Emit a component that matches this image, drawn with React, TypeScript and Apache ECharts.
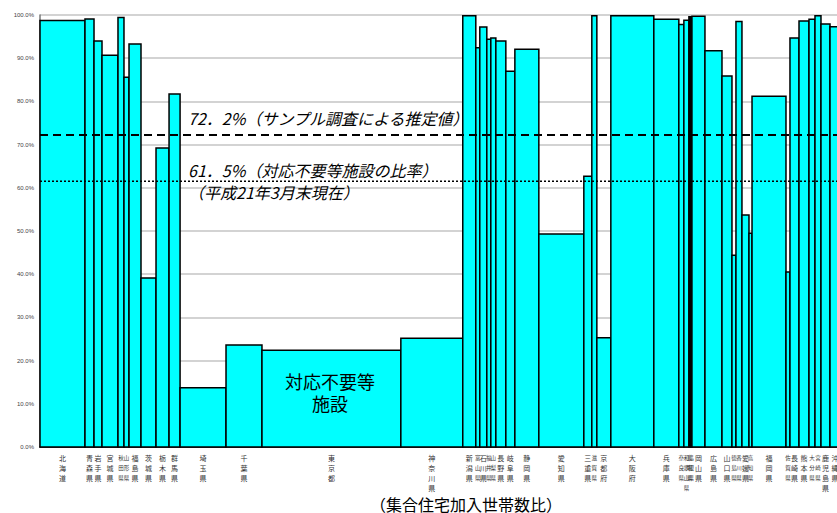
import React, { useEffect, useRef } from "react";
import * as echarts from "echarts";

const prefectures = ["北海道","青森県","岩手県","宮城県","秋田県","山形県","福島県","茨城県","栃木県","群馬県","埼玉県","千葉県","東京都","神奈川県","新潟県","富山県","石川県","福井県","山梨県","長野県","岐阜県","静岡県","愛知県","三重県","滋賀県","京都府","大阪府","兵庫県","奈良県","和歌山県","鳥取県","島根県","岡山県","広島県","山口県","徳島県","香川県","愛媛県","高知県","福岡県","佐賀県","長崎県","熊本県","大分県","宮崎県","鹿児島県","沖縄県"];

// share of apartment households (%), bar width
const householdShare = [5.63,1.13,1.0,2.0,0.75,0.63,1.5,1.88,1.63,1.38,5.75,4.5,17.38,7.75,1.63,0.5,0.88,0.5,0.63,1.25,1.13,3.0,5.63,1.0,0.63,1.75,5.38,3.13,0.63,0.63,0.19,0.19,1.63,2.13,1.25,0.5,0.75,0.88,0.38,4.25,0.5,1.13,1.25,0.75,0.75,1.13,1.25];

// ratio of facilities not requiring action (%), bar height
const ratio = [98.7,99.1,94.0,90.7,99.4,85.6,93.3,39.1,69.2,81.7,13.7,23.6,22.4,25.2,99.8,92.4,97.2,94.4,94.7,94.0,87.0,92.1,49.3,62.7,99.8,25.3,99.8,99.0,97.8,98.8,99.6,99.6,99.7,91.7,85.9,44.4,98.5,53.7,49.5,81.2,40.5,94.7,98.6,99.0,99.8,97.9,97.3];

const sampleEstimate = 72.2;
const facilityRatio = 61.5;

const yTicks = [0, 10, 20, 30, 40, 50, 60, 70, 80, 90, 100];

export default function App() {
  const ref = useRef<HTMLDivElement>(null);
  useEffect(() => {
    if (!ref.current) return;
    const chart = echarts.init(ref.current, null, { renderer: "svg" });
    let acc = 0;
    const data = householdShare.map((w, i) => {
      const s = acc;
      acc += w;
      return [s, acc, ratio[i]];
    });
    const total = acc;
    const cjk = '"Noto Sans CJK JP", sans-serif';
    chart.setOption({
      animation: false,
      backgroundColor: "#ffffff",
      grid: { left: 40, right: 10, top: 15, bottom: 66 },
      xAxis: {
        type: "value",
        min: 0,
        max: total,
        axisLine: { show: true, onZero: false, lineStyle: { color: "#000", width: 1.5 } },
        axisTick: { show: false },
        axisLabel: { show: false },
        splitLine: { show: false },
      },
      yAxis: {
        type: "value",
        min: yTicks[0],
        max: yTicks[yTicks.length - 1],
        interval: 10,
        axisLine: { show: true, lineStyle: { color: "#777", width: 1.5 } },
        axisTick: { show: false },
        axisLabel: {
          formatter: (v: number) => v.toFixed(1) + "%",
          fontSize: 6,
          color: "#444",
          margin: 6,
          fontFamily: '"Liberation Sans", sans-serif',
        },
        splitLine: { show: true, lineStyle: { color: "#c4c4c4", width: 1.5 } },
      },
      series: [
        {
          type: "custom",
          clip: false,
          data,
          renderItem: (params: any, api: any) => {
            const x0 = api.value(0);
            const x1 = api.value(1);
            const h = api.value(2);
            const pTop = api.coord([x0, h]);
            const pBot = api.coord([x1, 0]);
            const name = prefectures[params.dataIndex];
            const w = pBot[0] - pTop[0];
            const fs = w < 6 ? 5.5 : 7;
            return {
              type: "group",
              children: [
                {
                  type: "rect",
                  shape: { x: pTop[0], y: pTop[1], width: w, height: pBot[1] - pTop[1] },
                  style: { fill: "#00ffff", stroke: "#000", lineWidth: 1.5 },
                },
                {
                  type: "text",
                  x: (pTop[0] + pBot[0]) / 2,
                  y: pBot[1] + 6,
                  style: {
                    text: name.split("").join("\n"),
                    fontSize: fs,
                    lineHeight: 10,
                    fill: "#333",
                    align: "center",
                    verticalAlign: "top",
                    fontFamily: cjk,
                  },
                },
              ],
            };
          },
          z: 2,
        },
        {
          type: "line",
          data: [[0, sampleEstimate], [total, sampleEstimate]],
          symbol: "none",
          lineStyle: { color: "#000", width: 2, type: [8, 5] },
          z: 5,
        },
        {
          type: "line",
          data: [[0, facilityRatio], [total, facilityRatio]],
          symbol: "none",
          lineStyle: { color: "#000", width: 1.5, type: [2, 2] },
          z: 5,
        },
      ],
      graphic: [
        {
          type: "text",
          left: 188,
          top: 110,
          style: { text: "72．2%（サンプル調査による推定値）", fontSize: 16, fontStyle: "italic", fill: "#000", fontFamily: cjk },
          z: 10,
        },
        {
          type: "text",
          left: 188,
          top: 162,
          style: { text: "61．5%（対応不要等施設の比率）", fontSize: 16, fontStyle: "italic", fill: "#000", fontFamily: cjk },
          z: 10,
        },
        {
          type: "text",
          left: 188,
          top: 184,
          style: { text: "（平成21年3月末現在）", fontSize: 16, fontStyle: "italic", fill: "#000", fontFamily: cjk },
          z: 10,
        },
        {
          type: "text",
          x: 330,
          y: 370,
          style: { text: "対応不要等\n施設", fontSize: 18, lineHeight: 22, fill: "#000", align: "center", verticalAlign: "top", fontFamily: cjk },
          z: 10,
        },
        {
          type: "text",
          x: 466,
          y: 496,
          style: { text: "（集合住宅加入世帯数比）", fontSize: 16, fill: "#000", align: "center", verticalAlign: "top", fontFamily: cjk },
          z: 10,
        },
      ],
    });
    return () => chart.dispose();
  }, []);
  return (
    <div style={{ position: "fixed", left: 0, top: 0, width: 837, height: 513, overflow: "hidden", background: "#fff" }}>
      <div ref={ref} style={{ width: 850, height: 513 }} />
    </div>
  );
}
